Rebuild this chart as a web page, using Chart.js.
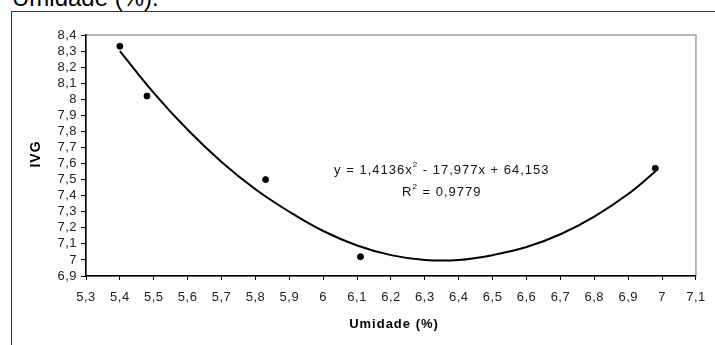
<!DOCTYPE html>
<html>
<head>
<meta charset="utf-8">
<script src="https://cdn.jsdelivr.net/npm/chart.js@4.4.1/dist/chart.umd.min.js"></script>
<style>
    body { margin: 0; width: 715px; height: 345px; overflow: hidden; background: #fff; position: relative; font-family: Arial, "Liberation Sans", sans-serif; }
    #topText { position: absolute; left: 12px; top: -14px; font-size: 24px; line-height: 24px; color: #000; white-space: nowrap; }
    #frame { position: absolute; left: 11px; top: 11px; width: 720px; height: 360px; border: 1.5px solid #333; box-sizing: border-box; }
    #wrap { position: absolute; left: 0; top: 0; width: 715px; height: 345px; }
    canvas { display: block; }
</style>
</head>
<body>
<div id="topText">Umidade (%).</div>
<div id="frame"></div>
<div id="wrap"><canvas id="grafico" width="715" height="345"></canvas></div>
<script>
// Pontos observados (umidade %, IVG)
const umidade = [5.40, 5.48, 5.83, 6.11, 6.98];
const ivg = [8.33, 8.02, 7.50, 7.02, 7.57];

// Linha de tendência
const tendX = [5.4, 5.5, 5.6, 5.7, 5.8, 5.9, 6.0, 6.1, 6.2, 6.3, 6.4, 6.5, 6.6, 6.7, 6.8, 6.9, 6.98];
const tendY = [8.30, 8.04, 7.81, 7.61, 7.44, 7.30, 7.18, 7.09, 7.03, 7.00, 7.00, 7.03, 7.08, 7.16, 7.27, 7.41, 7.55];

// Marcas dos eixos
const xTicks = [5.3, 5.4, 5.5, 5.6, 5.7, 5.8, 5.9, 6.0, 6.1, 6.2, 6.3, 6.4, 6.5, 6.6, 6.7, 6.8, 6.9, 7.0, 7.1];
const yTicks = [6.9, 7.0, 7.1, 7.2, 7.3, 7.4, 7.5, 7.6, 7.7, 7.8, 7.9, 8.0, 8.1, 8.2, 8.3, 8.4];

// Equação da tendência: [texto, sobrescrito?]
const equacao = [['y = 1,4136x', false], ['2', true], [' - 17,977x + 64,153', false]];
const r2 = [['R', false], ['2', true], [' = 0,9779', false]];

function virgula(v) {
    return String(Number(v.toFixed(1))).replace('.', ',');
}

// desenha um texto com partes sobrescritas, centrado em cx
function textoSobrescrito(c, partes, cx, cy) {
    const normal = '13px Arial, "Liberation Sans"';
    const sup = '8px Arial, "Liberation Sans"';
    let total = 0;
    partes.forEach(p => {
        c.font = p[1] ? sup : normal;
        total += c.measureText(p[0]).width;
    });
    let x = cx - total / 2;
    partes.forEach(p => {
        c.font = p[1] ? sup : normal;
        c.fillText(p[0], x, p[1] ? cy - 5 : cy);
        x += c.measureText(p[0]).width;
    });
}

// Moldura cinza, títulos e equação
const extras = {
    id: 'extras',
    beforeDraw(chart) {
        const c = chart.ctx, a = chart.chartArea;
        c.letterSpacing = '0.5px';
        c.save();
        c.strokeStyle = '#a0a0a0';
        c.lineWidth = 1.5;
        c.strokeRect(a.left, a.top, a.right - a.left, a.bottom - a.top);
        c.restore();
    },
    afterDraw(chart) {
        const c = chart.ctx;
        const xs = chart.scales.x, ys = chart.scales.y;
        c.save();
        c.letterSpacing = '1px';
        c.fillStyle = '#000';
        c.font = 'bold 13px Arial, "Liberation Sans"';
        c.textAlign = 'center';
        c.textBaseline = 'middle';
        c.fillText('Umidade (%)', 394, 324);
        c.font = 'bold 14px Arial, "Liberation Sans"';
        c.translate(36, 154);
        c.rotate(-Math.PI / 2);
        c.fillText('IVG', 0, 0);
        c.restore();

        c.save();
        c.letterSpacing = '1px';
        c.fillStyle = '#111';
        c.textAlign = 'left';
        c.textBaseline = 'middle';
        const cx = xs.getPixelForValue(6.35);
        const cy = ys.getPixelForValue(7.56);
        textoSobrescrito(c, equacao, cx, cy);
        textoSobrescrito(c, r2, cx, cy + 22);
        c.restore();
        c.letterSpacing = '0px';
    }
};

new Chart(document.getElementById('grafico'), {
    type: 'scatter',
    data: {
        datasets: [{
            label: 'IVG',
            data: umidade.map((x, i) => ({ x: x, y: ivg[i] })),
            backgroundColor: '#000',
            borderColor: '#000',
            pointRadius: 3,
            order: 1
        }, {
            label: 'Tendência',
            type: 'line',
            data: tendX.map((x, i) => ({ x: x, y: tendY[i] })),
            borderColor: '#000',
            borderWidth: 2,
            pointRadius: 0,
            tension: 0.4,
            fill: false,
            order: 2
        }]
    },
    plugins: [extras],
    options: {
        responsive: false,
        animation: false,
        devicePixelRatio: 1,
        layout: { padding: { left: 36, right: 13, top: 35, bottom: 0 } },
        plugins: { legend: { display: false }, tooltip: { enabled: false } },
        scales: {
            x: {
                type: 'linear',
                min: 5.3,
                max: 7.1,
                afterBuildTicks: s => { s.ticks = xTicks.map(v => ({ value: v })); },
                afterFit: s => { s.height = 69; },
                grid: { drawOnChartArea: false, drawTicks: true, tickLength: 4, color: '#000', lineWidth: 1 },
                border: { display: true, color: '#000', width: 1.5 },
                ticks: {
                    autoSkip: false,
                    maxRotation: 0,
                    padding: 10,
                    color: '#222',
                    font: { family: 'Arial, "Liberation Sans"', size: 13 },
                    callback: v => virgula(v)
                }
            },
            y: {
                type: 'linear',
                min: 6.9,
                max: 8.4,
                afterBuildTicks: s => { s.ticks = yTicks.map(v => ({ value: v })); },
                afterFit: s => { s.width = 50; },
                grid: { drawOnChartArea: false, drawTicks: true, tickLength: 5, color: '#000', lineWidth: 1 },
                border: { display: true, color: '#000', width: 1.5 },
                ticks: {
                    autoSkip: false,
                    padding: 4,
                    color: '#222',
                    font: { family: 'Arial, "Liberation Sans"', size: 13 },
                    callback: v => virgula(v)
                }
            }
        }
    }
});
</script>
</body>
</html>
